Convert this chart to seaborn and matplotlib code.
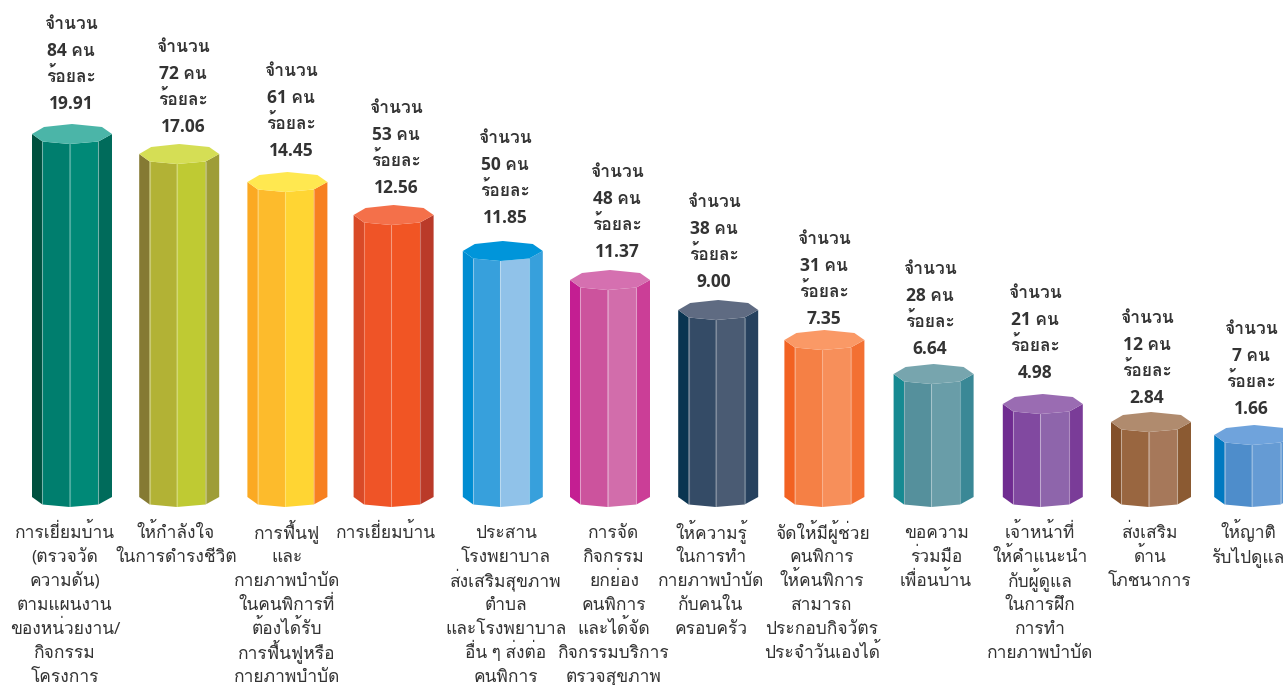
import matplotlib
matplotlib.use("Agg")
import matplotlib.pyplot as plt
from matplotlib.patches import Polygon
import pandas as pd
import seaborn as sns

categories = [
    "การเยี่ยมบ้าน\n(ตรวจวัด\nความดัน)\nตามแผนงาน\nของหน่วยงาน/\nกิจกรรม\nโครงการ",
    "ให้กำลังใจ\nในการดำรงชีวิต",
    "การฟื้นฟู\nและ\nกายภาพบำบัด\nในคนพิการที่\nต้องได้รับ\nการฟื้นฟูหรือ\nกายภาพบำบัด",
    "การเยี่ยมบ้าน",
    "ประสาน\nโรงพยาบาล\nส่งเสริมสุขภาพ\nตำบล\nและโรงพยาบาล\nอื่น ๆ ส่งต่อ\nคนพิการ",
    "การจัด\nกิจกรรม\nยกย่อง\nคนพิการ\nและได้จัด\nกิจกรรมบริการ\nตรวจสุขภาพ",
    "ให้ความรู้\nในการทำ\nกายภาพบำบัด\nกับคนใน\nครอบครัว",
    "จัดให้มีผู้ช่วย\nคนพิการ\nให้คนพิการ\nสามารถ\nประกอบกิจวัตร\nประจำวันเองได้",
    "ขอความ\nร่วมมือ\nเพื่อนบ้าน",
    "เจ้าหน้าที่\nให้คำแนะนำ\nกับผู้ดูแล\nในการฝึก\nการทำ\nกายภาพบำบัด",
    "ส่งเสริม\nด้าน\nโภชนาการ",
    "ให้ญาติ\nรับไปดูแล",
]
people = [84, 72, 61, 53, 50, 48, 38, 31, 28, 21, 12, 7]
percent = ["19.91", "17.06", "14.45", "12.56", "11.85", "11.37", "9.00", "7.35", "6.64", "4.98", "2.84", "1.66"]
# the columns in the picture are not to scale with the percentages, so these are the drawn heights
drawn_height = [363, 343, 315, 282, 246, 217, 187, 157, 123, 93, 75, 62]

# face colours: left, mid left, mid right, right, cap
face_colors = [
    ["#00513F", "#007E6E", "#008977", "#006B5B", "#4BB5A8"],
    ["#857A33", "#B2B235", "#BFCA33", "#9E9D37", "#D5DE55"],
    ["#FBA922", "#FDBB2C", "#FFD533", "#F78020", "#FFE850"],
    ["#D94A27", "#EF5427", "#F15524", "#BA3A29", "#F4704A"],
    ["#008DD2", "#37A0DC", "#90C2E9", "#37A0DC", "#0095DA"],
    ["#C41E92", "#CC539D", "#D26DAB", "#CB3E97", "#D570B0"],
    ["#0A3551", "#344B66", "#4A5B73", "#26415E", "#5F6B82"],
    ["#F26222", "#F58045", "#F78F5A", "#F37032", "#FA9966"],
    ["#168A92", "#55909C", "#699DA8", "#3A8896", "#77A5AE"],
    ["#702C91", "#8149A0", "#8E65AB", "#7A3C98", "#9A6CB2"],
    ["#83502A", "#996640", "#A6785A", "#8B5A32", "#B08B6E"],
    ["#0079C1", "#4E8DCB", "#659BD4", "#5A94D0", "#6FA3DC"],
]

# layout, all in pixels of the 1283x685 picture
W, H = 1283, 685
STEP = 107.2
FIRST_X = 72
BASE_Y = 497
bar_nudge = [0, 0, 1, 0, 2, 2, 3, 2, 4, 6, 7, 3]
value_x = [71, 183, 291, 396, 505, 617, 714, 824, 930, 1035, 1147, 1251]
value_gap = [25, 22, 26, 22, 28, 23, 23, 16, 20, 26, 19, 21]
cat_x = [65, 176, 287, 386, 506, 614, 711, 822, 936, 1040, 1150, 1248]
SPLITS = [0, 0.13, 0.47, 0.83, 1]
DROP = [0, 7.5, 10, 7.5, 0]
TEXT_COLOR = "#333333"

sns.set_theme(style="white")
# digits and latin signs from Open Sans, Thai falls through to Loma
plt.rcParams["font.family"] = ["Open Sans", "Loma", "DejaVu Sans"]

df = pd.DataFrame({"cat": categories, "height": drawn_height})

fig = plt.figure(figsize=(W / 100, H / 100), dpi=100)
ax = fig.add_axes([0, 0, 1, 1])
sns.barplot(
    data=df, x="cat", y="height", hue="cat", legend=False, width=80 / STEP,
    palette=[c[1] for c in face_colors], ax=ax,
)
ax.set_xlim(-FIRST_X / STEP, (W - FIRST_X) / STEP)
ax.set_ylim(BASE_Y - H, BASE_Y)
ax.axis("off")

for i, bar in enumerate(ax.patches[:len(categories)]):
    left = bar.get_x() + bar_nudge[i] / STEP
    w = bar.get_width()
    top = bar.get_height()
    xs = [left + s * w for s in SPLITS]
    cols = face_colors[i]
    # four visible faces of the prism
    for j in range(4):
        pts = [
            (xs[j], top - DROP[j]), (xs[j + 1], top - DROP[j + 1]),
            (xs[j + 1], -DROP[j + 1]), (xs[j], -DROP[j]),
        ]
        ax.add_patch(Polygon(pts, closed=True, facecolor=cols[j], edgecolor="none", zorder=3))
    # thin light seams between the faces
    for j in range(1, 4):
        ax.plot([xs[j], xs[j]], [top - DROP[j], -DROP[j]], color="white", alpha=0.3, lw=0.8, zorder=4)
    # cap is the front edge mirrored over the corner level
    back = [0.15, 0.5, 0.875]
    back_rise = [7, 10, 7]
    cap = [(x, top - d) for x, d in zip(xs, DROP)]
    cap += [(left + b * w, top + r) for b, r in zip(reversed(back), reversed(back_rise))]
    ax.add_patch(Polygon(cap, closed=True, facecolor=cols[4], edgecolor="none", zorder=5))
    bar.set_visible(False)

    # value stack above the column
    lines = ["จำนวน", f"{people[i]} คน", "ร้อยละ", percent[i]]
    y0 = top + value_gap[i]
    for k, line in enumerate(lines):
        ax.text((value_x[i] - FIRST_X) / STEP, y0 + (3 - k) * 26.7, line, ha="center", va="baseline",
                fontsize=12.5, fontweight="bold", color=TEXT_COLOR, zorder=6)

    # category text under the column
    for k, line in enumerate(categories[i].split("\n")):
        ax.text((cat_x[i] - FIRST_X) / STEP, BASE_Y - 538 - k * 24, line, ha="center", va="baseline",
                fontsize=12.5, color=TEXT_COLOR, zorder=6)

fig.savefig("out.png", dpi=100)
